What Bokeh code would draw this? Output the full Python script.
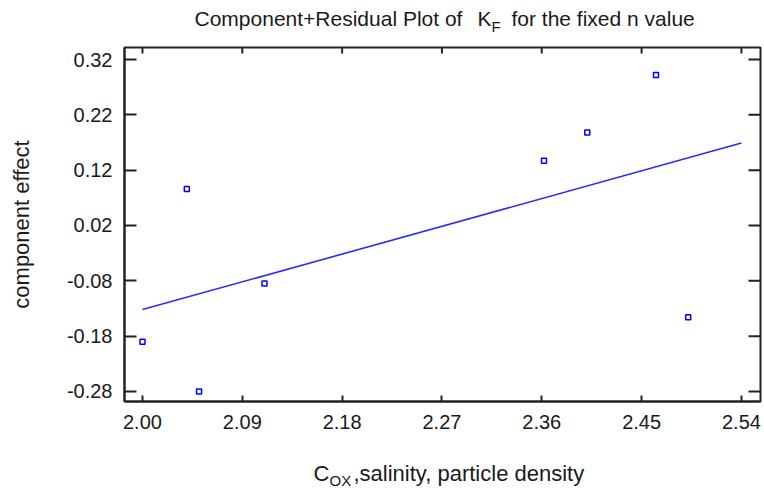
import math
from bokeh.plotting import figure
from bokeh.layouts import column
from bokeh.models import Range1d, FixedTicker, LinearAxis, Label, NumeralTickFormatter
from bokeh.embed import file_html
from bokeh.resources import INLINE

# ---- data ----
x_vals = [2.000, 2.040, 2.051, 2.110, 2.362, 2.401, 2.463, 2.492]
y_vals = [-0.190, 0.086, -0.280, -0.085, 0.137, 0.188, 0.292, -0.146]
fit_x = [2.00, 2.54]
fit_y = [-0.132, 0.169]
x_ticks = [2.00, 2.09, 2.18, 2.27, 2.36, 2.45, 2.54]
y_ticks = [-0.28, -0.18, -0.08, 0.02, 0.12, 0.22, 0.32]

title_main = "Component+Residual Plot of"
title_k = "K"
title_sub = "F"
title_rest = "for the fixed n value"
xlabel_main = "C"
xlabel_sub = "OX"
xlabel_rest = ",salinity, particle density"
ylabel = "component effect"

FONT = "Liberation Sans"
TXT = "#1a1a1a"
X0, X1 = 1.9838, 2.5572
Y0, Y1 = -0.2981, 0.3417

W = 764
TOP_H, MAIN_H, BOT_H = 41, 399, 50
FL = 124  # the column aligns every strip's frame with the main frame's left edge


def blank(w, h):
    f = figure(width=w, height=h, output_backend="svg", toolbar_location=None,
               title=None, x_range=Range1d(0, 1), y_range=Range1d(0, 1),
               min_border=0, x_axis_location=None, y_axis_location=None)
    f.outline_line_color = None
    f.background_fill_color = "white"
    f.border_fill_color = "white"
    f.xgrid.visible = False
    f.ygrid.visible = False
    return f


def lab(f, text, X, y, size, align="left", angle=0.0, baseline="alphabetic"):
    f.add_layout(Label(text=text, x=X - FL, y=y, x_units="screen", y_units="screen",
                       text_font=FONT, text_font_size=size, text_color=TXT,
                       text_align=align, text_baseline=baseline, angle=angle))


# ---- main plot ----
p = figure(width=W, height=MAIN_H, output_backend="svg", toolbar_location=None,
           title=None, x_range=Range1d(X0, X1), y_range=Range1d(Y0, Y1),
           min_border_left=FL, min_border_right=4, min_border_top=6,
           min_border_bottom=39, x_axis_location=None, y_axis_location=None)
p.background_fill_color = "white"
p.border_fill_color = "white"
p.outline_line_color = "#222222"
p.outline_line_width = 2
p.xgrid.visible = False
p.ygrid.visible = False


def mk_axis(ticks, tick_len, standoff):
    ax = LinearAxis(ticker=FixedTicker(ticks=ticks),
                    formatter=NumeralTickFormatter(format="0.00"))
    ax.major_tick_in = tick_len
    ax.major_tick_out = 0
    ax.minor_tick_in = 0
    ax.minor_tick_out = 0
    ax.major_tick_line_color = "#222222"
    ax.major_tick_line_width = 2
    ax.axis_line_color = "#222222"
    ax.axis_line_width = 2
    ax.major_label_text_font = FONT
    ax.major_label_text_font_size = "20px"
    ax.major_label_text_color = TXT
    ax.major_label_standoff = standoff
    return ax


yax = mk_axis(y_ticks, 12, 12)
yax.axis_label = ylabel
yax.axis_label_text_font = FONT
yax.axis_label_text_font_size = "22px"
yax.axis_label_text_font_style = "normal"
yax.axis_label_text_color = TXT
yax.axis_label_standoff = 30
p.add_layout(yax, "left")
p.add_layout(mk_axis(x_ticks, 6, 13), "below")

# mirrored inward ticks on top and right edges (half of each dash is clipped by the frame)
p.scatter(x_ticks, [Y1] * len(x_ticks), marker="dash", angle=math.pi / 2, size=12,
          line_color="#222222", line_width=2)
p.scatter([X1] * len(y_ticks), y_ticks, marker="dash", size=24,
          line_color="#222222", line_width=2)

p.line(fit_x, fit_y, line_color="#2a2aff", line_width=1.6)
p.scatter(x_vals, y_vals, marker="square", size=5, line_color="#0000ff",
          fill_color="white", line_width=1.5)

# ---- title strip ----
t = blank(W, TOP_H)
lab(t, title_main, 194, 23, "21px")
lab(t, title_k, 477, 23, "21px")
lab(t, title_sub, 491, 15, "15px")
lab(t, title_rest, 511, 23, "21px")

# ---- x label strip ----
xl = blank(W, BOT_H)
lab(xl, xlabel_main, 313, 17, "22px")
lab(xl, xlabel_sub, 329, 10, "15px")
lab(xl, xlabel_rest, 353, 17, "22px")

layout = column(t, p, xl, spacing=0)

open("out.html", "w").write(file_html(layout, INLINE))
